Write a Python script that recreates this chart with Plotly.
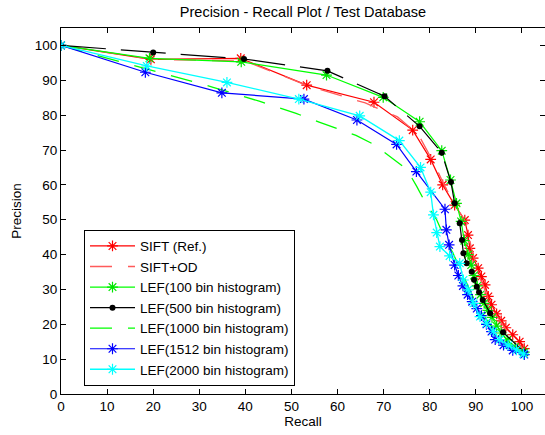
import plotly.graph_objects as go

# ---- data ----
sift_recall = [0, 19.5, 39, 53.3, 67.9, 76.3, 80.2, 82.8, 85.4, 87.6, 88.3, 88.7, 89.4, 90.5, 91.2,
               92.0, 92.7, 93.4, 94.5, 95.5, 96.5, 98, 99.5, 100.5]
sift_prec = [100, 96, 96.3, 88.6, 83.7, 75.7, 67.3, 60.0, 54.2, 49.9, 45.6, 41.8, 39.0, 36.1, 33.7,
             31.3, 28, 25.6, 23, 21, 19, 17, 15, 13]

siftod_recall = [0, 20, 40, 54, 66, 73, 77.5, 80.8, 83.3, 85.8, 88, 89, 90, 91, 92.5, 94, 96, 98, 100.5]
siftod_prec = [100, 96, 95.5, 88.2, 83.5, 79.5, 74.5, 66.5, 59.5, 53.5, 49, 42, 37, 33, 28, 23.5, 19.5, 16, 12.5]

lef100_recall = [0, 19.2, 39.1, 57.6, 69.9, 77.8, 82.6, 84.5, 85.8, 86.8, 87.5, 88.3, 89, 89.6, 90.3,
                 91, 91.8, 92.6, 93.5, 94.5, 95.5, 96.8, 98.5, 100.5]
lef100_prec = [100, 96.3, 95.3, 91.5, 85.1, 78.1, 69.8, 61.4, 54.7, 49.5, 44, 40, 37, 34, 31,
               28.5, 26, 24, 22, 19.5, 17.5, 15.5, 13.5, 12]

lef500_recall = [0, 20, 39.7, 57.8, 70.2, 77.8, 82.6, 84.6, 85.4, 86.5, 87, 87.3, 88, 89.1, 89.6,
                 90.2, 90.7, 91.5, 93.1, 95.9, 100.5]
lef500_prec = [100, 98, 96.1, 92.7, 85.4, 76.8, 69.2, 60.8, 54.7, 49, 44.2, 40.4, 37.5, 35.1, 32.8,
               30.8, 29.2, 27, 23.2, 17.7, 12]

lef1000_recall = [0, 18, 33, 43, 51, 56, 60, 64, 68, 72, 75, 77.2, 79, 81.5, 83, 85, 86.5, 88, 89.5,
                  91, 93, 95, 97.5, 100.5]
lef1000_prec = [100, 93.5, 88, 84, 80.5, 78, 76.2, 74.2, 71.5, 67.5, 64.5, 59.5, 55, 50, 45.5, 40.5,
                36, 31.5, 27.5, 24, 20, 17, 14, 12]

lef1512_recall = [0, 18.3, 34.9, 52.7, 64.2, 72.8, 77.1, 83.3, 83.6, 84.2, 85.4, 86.2, 87.2, 88.2,
                  89.2, 90.2, 91.2, 92.3, 93.4, 94.2, 96, 98, 100.5]
lef1512_prec = [100, 92.3, 86.4, 84.6, 78.6, 71.6, 63.8, 53, 47.1, 42.8, 37, 34, 31, 28.5,
                26.5, 24.5, 22.5, 20, 17.9, 15.6, 14, 12.5, 11.3]

lef2000_recall = [0, 18.6, 36, 51.6, 64.8, 73.4, 78, 80.2, 80.8, 81.5, 82.2, 84.3, 86.5, 87.3, 88.3,
                  89.5, 90.9, 92.3, 93.8, 95.2, 97, 98.8, 100.3]
lef2000_prec = [100, 94.1, 89.4, 84.6, 79.8, 72.7, 65, 57.9, 51.4, 46.3, 42.3, 39.6, 37.5, 32.7, 29.9,
                26, 22.2, 20.3, 18, 15.6, 14, 12.7, 11.5]

x_ticks = [0, 10, 20, 30, 40, 50, 60, 70, 80, 90, 100]
y_ticks = [0, 10, 20, 30, 40, 50, 60, 70, 80, 90, 100]

FONT = "Liberation Sans, Arial, sans-serif"

def star(color):
    return dict(symbol="asterisk-open", size=9, color=color, line=dict(color=color, width=1.2))

fig = go.Figure()
fig.add_trace(go.Scatter(x=sift_recall, y=sift_prec, name="SIFT (Ref.)", mode="lines+markers",
                         line=dict(color="rgb(255,0,0)", width=1.2), marker=star("rgb(255,0,0)"),
                         legendgroup="a"))
fig.add_trace(go.Scatter(x=siftod_recall, y=siftod_prec, name="SIFT+OD", mode="lines",
                         line=dict(color="rgb(255,90,90)", width=1.3, dash="22px,16px"),
                         legendgroup="b"))
fig.add_trace(go.Scatter(x=lef100_recall, y=lef100_prec, name="LEF(100 bin histogram)", mode="lines+markers",
                         line=dict(color="rgb(0,255,0)", width=1.2), marker=star("rgb(0,230,0)"),
                         legendgroup="c"))
fig.add_trace(go.Scatter(x=lef500_recall, y=lef500_prec, name="LEF(500 bin histogram)", mode="lines+markers",
                         line=dict(color="black", width=1.2, dash="45px,15px"),
                         marker=dict(symbol="circle", size=6, color="black"),
                         legendgroup="d"))
fig.add_trace(go.Scatter(x=lef1000_recall, y=lef1000_prec, name="LEF(1000 bin histogram)", mode="lines",
                         line=dict(color="rgb(0,255,0)", width=1.3, dash="22px,16px"),
                         legendgroup="e"))
fig.add_trace(go.Scatter(x=lef1512_recall, y=lef1512_prec, name="LEF(1512 bin histogram)", mode="lines+markers",
                         line=dict(color="rgb(0,0,255)", width=1.2), marker=star("rgb(0,0,255)"),
                         legendgroup="f"))
fig.add_trace(go.Scatter(x=lef2000_recall, y=lef2000_prec, name="LEF(2000 bin histogram)", mode="lines+markers",
                         line=dict(color="rgb(0,255,255)", width=1.3), marker=star("rgb(0,255,255)"),
                         legendgroup="g"))

axis_common = dict(showline=True, linecolor="black", linewidth=1, mirror="allticks",
                   ticks="inside", ticklen=5, tickcolor="black", showgrid=False, zeroline=False,
                   automargin=False,
                   tickfont=dict(family=FONT, size=13.5, color="black"))

fig.update_layout(
    width=545, height=435,
    margin=dict(l=61, r=0, t=28, b=41),
    paper_bgcolor="white", plot_bgcolor="white",
    font=dict(family=FONT, size=13, color="black"),
    title=dict(text="Precision - Recall Plot / Test Database", x=0.5, xref="paper",
               y=1 - 12 / 435, yanchor="middle", xanchor="center",
               font=dict(family=FONT, size=14.5, color="black")),
    xaxis=dict(range=[0, 105], tickvals=x_ticks,
               title=dict(text="Recall", standoff=2, font=dict(family=FONT, size=13.5)), **axis_common),
    yaxis=dict(range=[0, 105], tickvals=y_ticks,
               title=dict(text="Precision", standoff=10, font=dict(family=FONT, size=13.5)), **axis_common),
    legend=dict(x=(84 - 61) / 484, y=(394.3 - 230) / 366, xanchor="left", yanchor="top",
                bgcolor="white", bordercolor="black", borderwidth=1,
                font=dict(family=FONT, size=13.5, color="black"),
                tracegroupgap=0, itemwidth=45, traceorder="normal"),
)

fig.write_html("out.html", config={"displayModeBar": False},
               post_script="document.body.style.margin='0px';document.body.style.overflow='hidden';")
